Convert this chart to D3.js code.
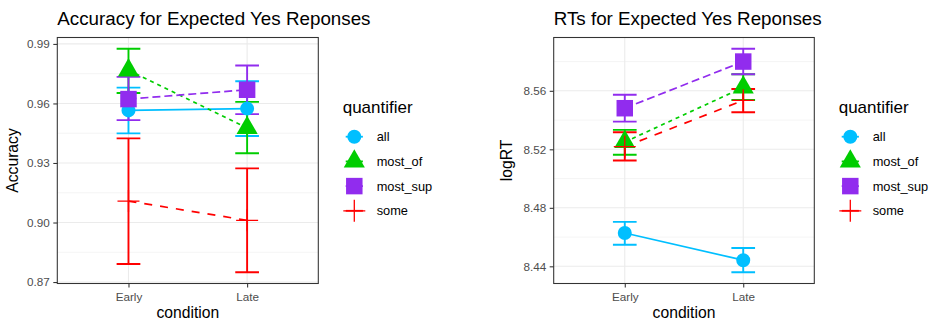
<!DOCTYPE html>
<html>
<head>
<meta charset="utf-8">
<script src="https://cdn.jsdelivr.net/npm/d3@7"></script>
<style>
  body { margin: 0; background: #fff; }
  svg { display: block; font-family: "Liberation Sans", Arial, sans-serif; }
</style>
</head>
<body>
<div id="chart"></div>
<script>
// data, [Early, Late] for each quantifier
const conditions = ["Early", "Late"];
const quantifiers = ["all", "most_of", "most_sup", "some"];

const accMean = [
  [0.9565, 0.9574], // all
  [0.9767, 0.9477], // most_of
  [0.9622, 0.9669], // most_sup
  [0.9108, 0.9011], // some
];
const accLow = [
  [0.9449, 0.9436],
  [0.9653, 0.9349],
  [0.9516, 0.9546],
  [0.8791, 0.8749],
];
const accHigh = [
  [0.9680, 0.9712],
  [0.9876, 0.9608],
  [0.9734, 0.9791],
  [0.9424, 0.9273],
];
const accTicks = [0.87, 0.9, 0.93, 0.96, 0.99];

const rtMean = [
  [8.4628, 8.4442],
  [8.5250, 8.5623],
  [8.5481, 8.5800],
  [8.5218, 8.5535],
];
const rtLow = [
  [8.4547, 8.4359],
  [8.5163, 8.5537],
  [8.5389, 8.5713],
  [8.5124, 8.5453],
];
const rtHigh = [
  [8.4704, 8.4525],
  [8.5333, 8.5713],
  [8.5573, 8.5888],
  [8.5317, 8.5612],
];
const rtTicks = [8.44, 8.48, 8.52, 8.56];

const colors = ["#00BFFF", "#00CD00", "#912CEE", "#FF0000"];
const dashes = [null, "4,4", "8,4", "8,8"];
const shapes = ["circle", "triangle", "square", "plus"];

const W = 931, H = 322;
const svg = d3.select("#chart").append("svg").attr("width", W).attr("height", H);

function drawShape(g, shape, color) {
  if (shape === "plus") {
    g.append("path")
      .attr("d", "M-11,0H11M0,-11V11")
      .attr("stroke", color)
      .attr("stroke-width", 1.3)
      .attr("fill", "none");
    return;
  }
  let sym = d3.symbol();
  if (shape === "circle") sym.type(d3.symbolCircle).size(154);
  if (shape === "triangle") sym.type(d3.symbolTriangle).size(193);
  if (shape === "square") sym.type(d3.symbolSquare).size(272);
  g.append("path").attr("d", sym()).attr("fill", color);
}

function drawPanel(cfg) {
  const p = cfg.box;
  const g = svg.append("g");

  const x = d3.scalePoint().domain(conditions).range([p.left, p.right]).padding(0.6);

  // y limits like ggplot: data range + 5% each side
  const lo = d3.min(cfg.low.flat()), hi = d3.max(cfg.high.flat());
  const pad = (hi - lo) * 0.05;
  const y = d3.scaleLinear().domain([lo - pad, hi + pad]).range([p.bottom, p.top]);

  // grid
  const step = cfg.ticks[1] - cfg.ticks[0];
  const minor = cfg.ticks.map((t) => t + step / 2)
    .concat([cfg.ticks[0] - step / 2])
    .filter((t) => t > y.domain()[0] && t < y.domain()[1]);

  g.selectAll(".minor").data(minor).enter().append("line")
    .attr("x1", p.left).attr("x2", p.right)
    .attr("y1", (d) => y(d)).attr("y2", (d) => y(d))
    .attr("stroke", "#EBEBEB").attr("stroke-width", 0.55);
  g.selectAll(".major").data(cfg.ticks).enter().append("line")
    .attr("x1", p.left).attr("x2", p.right)
    .attr("y1", (d) => y(d)).attr("y2", (d) => y(d))
    .attr("stroke", "#EBEBEB").attr("stroke-width", 1.1);
  g.selectAll(".xmajor").data(conditions).enter().append("line")
    .attr("x1", (d) => x(d)).attr("x2", (d) => x(d))
    .attr("y1", p.top).attr("y2", p.bottom)
    .attr("stroke", "#EBEBEB").attr("stroke-width", 1.1);

  // lines
  const line = d3.line().x((d, i) => x(conditions[i])).y((d) => y(d));
  cfg.mean.forEach((m, q) => {
    g.append("path")
      .attr("d", line(m))
      .attr("fill", "none")
      .attr("stroke", colors[q])
      .attr("stroke-width", 1.7)
      .attr("stroke-dasharray", dashes[q]);
  });

  // error bars
  const half = x.step() * 0.1;
  cfg.mean.forEach((m, q) => {
    conditions.forEach((c, i) => {
      const cx = x(c);
      const yl = y(cfg.low[q][i]), yh = y(cfg.high[q][i]);
      g.append("path")
        .attr("d", `M${cx - half},${yh}H${cx + half}M${cx},${yh}V${yl}M${cx - half},${yl}H${cx + half}`)
        .attr("fill", "none")
        .attr("stroke", colors[q])
        .attr("stroke-width", 1.9);
    });
  });

  // points
  cfg.mean.forEach((m, q) => {
    conditions.forEach((c, i) => {
      const pg = g.append("g").attr("transform", `translate(${x(c)},${y(m[i])})`);
      drawShape(pg, shapes[q], colors[q]);
    });
  });

  // panel border
  g.append("rect")
    .attr("x", p.left).attr("y", p.top)
    .attr("width", p.right - p.left).attr("height", p.bottom - p.top)
    .attr("fill", "none").attr("stroke", "#333333").attr("stroke-width", 1.07);

  // axes
  const yAxis = d3.axisLeft(y).tickValues(cfg.ticks).tickSize(4).tickPadding(3.5)
    .tickFormat(d3.format(".2f"));
  const yg = g.append("g").attr("transform", `translate(${p.left},0)`).call(yAxis);
  const xAxis = d3.axisBottom(x).tickSize(4).tickPadding(5);
  const xg = g.append("g").attr("transform", `translate(0,${p.bottom})`).call(xAxis);
  [yg, xg].forEach((a) => {
    a.select(".domain").remove();
    a.selectAll(".tick line").attr("stroke", "#333333").attr("stroke-width", 1.07);
    a.selectAll(".tick text").attr("fill", "#4D4D4D").style("font-size", "11.7px")
      .style("font-family", "'Liberation Sans', Arial, sans-serif");
  });

  // titles
  g.append("text")
    .attr("x", p.left).attr("y", 24.5)
    .style("font-size", "18.8px")
    .text(cfg.title);
  g.append("text")
    .attr("x", (p.left + p.right) / 2).attr("y", 317.5)
    .attr("text-anchor", "middle")
    .style("font-size", "15.7px")
    .text("condition");
  g.append("text")
    .attr("transform", `translate(${cfg.yTitleX},${(p.top + p.bottom) / 2}) rotate(-90)`)
    .attr("text-anchor", "middle")
    .style("font-size", "15.7px")
    .text(cfg.yTitle);

  // legend
  const lx = p.right;
  g.append("text")
    .attr("x", lx + 24.4).attr("y", 112.7)
    .style("font-size", "17px")
    .text("quantifier");
  quantifiers.forEach((name, q) => {
    const ky = 136.7 + q * 24.7;
    const kx = lx + 36;
    g.append("line")
      .attr("x1", kx - 8.6).attr("x2", kx + 8.6)
      .attr("y1", ky).attr("y2", ky)
      .attr("stroke", colors[q]).attr("stroke-width", 1.8);
    const kg = g.append("g").attr("transform", `translate(${kx},${ky})`);
    drawShape(kg, shapes[q], colors[q]);
    g.append("text")
      .attr("x", lx + 58.4).attr("y", ky + 4.5)
      .style("font-size", "12.8px")
      .text(name);
  });
}

drawPanel({
  box: { left: 57.3, right: 318.3, top: 37.5, bottom: 283.5 },
  mean: accMean, low: accLow, high: accHigh, ticks: accTicks,
  title: "Accuracy for Expected Yes Reponses",
  yTitle: "Accuracy", yTitleX: 18,
});

drawPanel({
  box: { left: 553.7, right: 814.3, top: 37.5, bottom: 283.5 },
  mean: rtMean, low: rtLow, high: rtHigh, ticks: rtTicks,
  title: "RTs for Expected Yes Reponses",
  yTitle: "logRT", yTitleX: 512,
});
</script>
</body>
</html>
